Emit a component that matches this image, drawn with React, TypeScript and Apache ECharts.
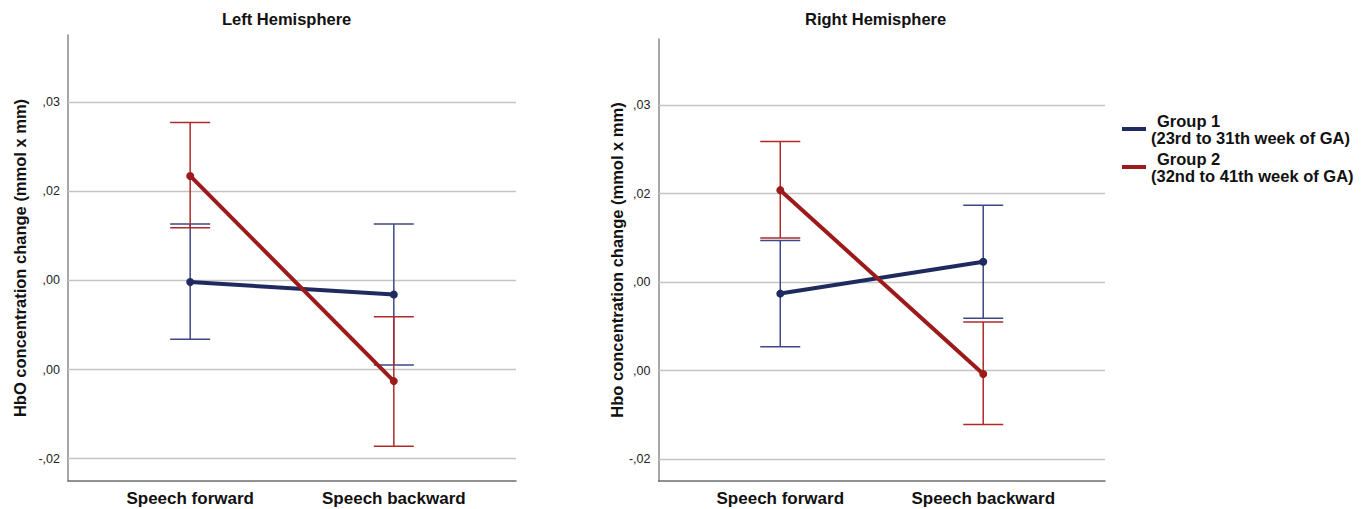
import React, { useEffect, useRef } from "react";
import * as echarts from "echarts";

const CATEGORIES = ["Speech forward", "Speech backward"];
const GROUPS = ["Group 1", "Group 2"];
const GROUP_DETAILS = ["(23rd to 31th week of GA)", "(32nd to 41th week of GA)"];
const TITLES = ["Left Hemisphere", "Right Hemisphere"];
const Y_NAMES = ["HbO concentration change (mmol x mm)", "Hbo concentration change (mmol x mm)"];

const TICK_VALUES = [0.03, 0.02, 0.01, 0, -0.01];
const TICK_LABELS = [",03", ",02", ",00", ",00", "-,02"];

// Left hemisphere
const LEFT_G1_MEAN = [0.0098, 0.0084];
const LEFT_G1_LOW = [0.0034, 0.0005];
const LEFT_G1_HIGH = [0.0163, 0.0163];
const LEFT_G2_MEAN = [0.0217, -0.0013];
const LEFT_G2_LOW = [0.0159, -0.0086];
const LEFT_G2_HIGH = [0.0277, 0.0059];

// Right hemisphere
const RIGHT_G1_MEAN = [0.0087, 0.0123];
const RIGHT_G1_LOW = [0.0027, 0.0059];
const RIGHT_G1_HIGH = [0.0147, 0.0187];
const RIGHT_G2_MEAN = [0.0204, -0.0004];
const RIGHT_G2_LOW = [0.015, -0.0061];
const RIGHT_G2_HIGH = [0.0259, 0.0055];

const LINE_COLORS = ["#1f2a5e", "#9c1a1a"];
const BAR_COLORS = ["#3d4885", "#b02a2a"];
const FONT = "'Liberation Sans', Arial, sans-serif";

export default function App() {
  const ref = useRef<HTMLDivElement>(null);

  useEffect(() => {
    if (!ref.current) return;
    const chart = echarts.init(ref.current, null, { renderer: "svg" });

    const panels = [
      {
        g: [
          { mean: LEFT_G1_MEAN, low: LEFT_G1_LOW, high: LEFT_G1_HIGH },
          { mean: LEFT_G2_MEAN, low: LEFT_G2_LOW, high: LEFT_G2_HIGH },
        ],
      },
      {
        g: [
          { mean: RIGHT_G1_MEAN, low: RIGHT_G1_LOW, high: RIGHT_G1_HIGH },
          { mean: RIGHT_G2_MEAN, low: RIGHT_G2_LOW, high: RIGHT_G2_HIGH },
        ],
      },
    ];

    const yLabel = (v: number) => {
      const i = TICK_VALUES.findIndex((t) => Math.abs(t - v) < 1e-9);
      return i >= 0 ? TICK_LABELS[i] : "";
    };
    const xLabel = (v: number) => {
      const i = CATEGORIES.findIndex((_, k) => Math.abs(k - v) < 1e-6);
      return i >= 0 ? CATEGORIES[i] : "";
    };

    const grids = [
      { left: 68, width: 448, top: 35, height: 446 },
      { left: 658.5, width: 446.5, top: 39, height: 442 },
    ];

    const xAxes = grids.map((_, gi) => ({
      type: "value",
      gridIndex: gi,
      min: -0.6,
      max: 1.6,
      interval: 0.2,
      axisLine: { show: true, onZero: false, lineStyle: { color: "#6e6e6e", width: 1.5 } },
      axisTick: { show: false },
      splitLine: { show: false },
      axisLabel: {
        formatter: xLabel,
        margin: 9,
        fontFamily: FONT,
        fontSize: 17,
        fontWeight: "bold",
        color: "#111",
      },
    }));

    const yAxes = grids.map((_, gi) => ({
      type: "value",
      gridIndex: gi,
      min: -0.0125,
      max: 0.0375,
      interval: 0.0025,
      name: Y_NAMES[gi],
      nameLocation: "middle",
      nameRotate: 90,
      nameGap: gi === 0 ? 40 : 31,
      nameTextStyle: { fontFamily: FONT, fontSize: 16.5, fontWeight: "bold", color: "#111" },
      axisLine: { show: true, onZero: false, lineStyle: { color: "#8a8a8a", width: 1.5 } },
      axisTick: { show: false },
      splitLine: { show: false },
      axisLabel: {
        formatter: yLabel,
        margin: 8,
        fontFamily: FONT,
        fontSize: 12.5,
        color: "#222",
      },
    }));

    const series: any[] = [];
    panels.forEach((p, pi) => {
      p.g.forEach((grp, gi) => {
        series.push({
          type: "custom",
          name: GROUPS[gi],
          xAxisIndex: pi,
          yAxisIndex: pi,
          z: 3,
          silent: true,
          color: LINE_COLORS[gi],
          encode: { x: 0, y: [1, 2] },
          data: CATEGORIES.map((_, i) => [i, grp.low[i], grp.high[i]]),
          renderItem: (params: any, api: any) => {
            const x = api.value(0);
            const lo = api.coord([x, api.value(1)]);
            const hi = api.coord([x, api.value(2)]);
            const w = 20;
            const style = { stroke: BAR_COLORS[gi], lineWidth: 1.5, fill: "none" };
            return {
              type: "group",
              children: [
                { type: "line", shape: { x1: lo[0], y1: lo[1], x2: hi[0], y2: hi[1] }, style },
                { type: "line", shape: { x1: hi[0] - w, y1: hi[1], x2: hi[0] + w, y2: hi[1] }, style },
                { type: "line", shape: { x1: lo[0] - w, y1: lo[1], x2: lo[0] + w, y2: lo[1] }, style },
              ],
            };
          },
          markLine:
            gi === 0
              ? {
                  silent: true,
                  z: 1,
                  symbol: ["none", "none"],
                  label: { show: false },
                  lineStyle: { color: "#c4c4c4", width: 1.3, type: "solid" },
                  emphasis: { disabled: true },
                  data: TICK_VALUES.map((v) => ({ yAxis: v })),
                }
              : undefined,
        });
      });
      p.g.forEach((grp, gi) => {
        series.push({
          type: "line",
          name: GROUPS[gi],
          xAxisIndex: pi,
          yAxisIndex: pi,
          z: 5,
          color: LINE_COLORS[gi],
          symbol: "circle",
          symbolSize: 8,
          lineStyle: { width: 4, color: LINE_COLORS[gi] },
          itemStyle: { color: LINE_COLORS[gi] },
          emphasis: { disabled: true },
          data: CATEGORIES.map((_, i) => [i, grp.mean[i]]),
        });
      });
    });

    const titleStyle = { fontFamily: FONT, fontSize: 16.5, fontWeight: "bold", color: "#111" };

    chart.setOption({
      animation: false,
      backgroundColor: "#ffffff",
      title: [
        { text: TITLES[0], left: 222, top: 10, padding: 0, textStyle: titleStyle },
        { text: TITLES[1], left: 805, top: 10, padding: 0, textStyle: titleStyle },
      ],
      legend: {
        orient: "vertical",
        left: 1122,
        top: 112,
        padding: 0,
        itemWidth: 24,
        itemHeight: 4,
        itemGap: 4,
        selectedMode: false,
        data: GROUPS.map((g, i) => ({ name: g, icon: "rect", itemStyle: { color: LINE_COLORS[i] } })),
        formatter: (name: string) => {
          const i = GROUPS.indexOf(name);
          return `{a|${name}}\n{b|${GROUP_DETAILS[i]}}`;
        },
        textStyle: {
          fontFamily: FONT,
          fontSize: 16.5,
          fontWeight: "bold",
          color: "#111",
          rich: {
            a: { fontFamily: FONT, fontSize: 16.5, fontWeight: "bold", color: "#111", lineHeight: 17, padding: [0, 0, 0, 6] },
            b: { fontFamily: FONT, fontSize: 16.5, fontWeight: "bold", color: "#111", lineHeight: 17 },
          },
        },
      },
      grid: grids.map((g) => ({ ...g, containLabel: false })),
      xAxis: xAxes,
      yAxis: yAxes,
      series,
    });

    return () => chart.dispose();
  }, []);

  return (
    <div
      ref={ref}
      style={{ position: "absolute", left: 0, top: 0, width: 1370, height: 509, background: "#fff" }}
    />
  );
}
